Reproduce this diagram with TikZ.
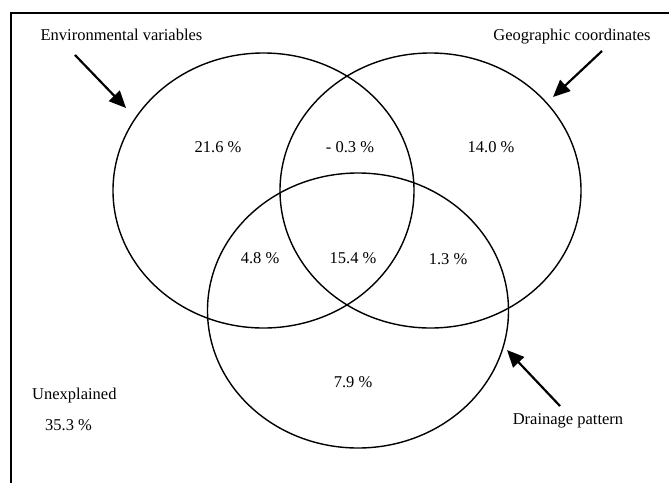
\documentclass[tikz,border=0pt]{standalone}
\usepackage{fontspec}
\setmainfont{Liberation Serif}
\usetikzlibrary{shapes.geometric,arrows.meta}
\begin{document}
\begin{tikzpicture}[x=1pt,y=-1pt,
  setcircle/.style={draw, ellipse, line width=1.4pt, minimum width=301pt, minimum height=275pt, inner sep=0pt, outer sep=0pt},
  lbl/.style={anchor=base, inner sep=0pt, font=\fontsize{16.5}{19}\selectfont},
  pointer/.style={line width=2.2pt, -{Triangle[length=17pt,width=15pt]}},
  framepen/.style={line width=1.3pt}]
\useasboundingbox (0,0) rectangle (669,483);
% frame
\coordinate (ftr) at (669,13);
\coordinate (ftl) at (11,13);
\coordinate (fbl) at (11,483);
\draw[framepen] (ftr) -- (ftl) -- (fbl);
% circles
\node[setcircle] (env) at (263.5,190.5) {};
\node[setcircle] (geo) at (430.5,190.5) {};
\node[setcircle] (drain) at (358,310.5) {};
% titles
\node[lbl] (envlbl) at (121.5,40.5) {Environmental variables};
\node[lbl] (geolbl) at (572,40.5) {Geographic coordinates};
\node[lbl] (drainlbl) at (568,424.5) {Drainage pattern};
\node[lbl, anchor=base west] (unexp) at (32,399.5) {Unexplained};
\node[lbl, anchor=base west] (unexpv) at (45,430.5) {35.3 \%};
% values
\node[lbl] (v1) at (218,152.5) {21.6 \%};
\node[lbl] (v2) at (350,152.5) {- 0.3 \%};
\node[lbl] (v3) at (491,152.5) {14.0 \%};
\node[lbl] (v4) at (260,263.5) {4.8 \%};
\node[lbl] (v5) at (353,263.5) {15.4 \%};
\node[lbl] (v6) at (448,264.5) {1.3 \%};
\node[lbl] (v7) at (353,387.5) {7.9 \%};
% arrows
\coordinate (envtail) at (75,55);
\coordinate (envtip) at (126,108);
\coordinate (geotail) at (602,51);
\coordinate (geotip) at (553,97);
\coordinate (draintail) at (560,406);
\coordinate (draintip) at (507,350);
\draw[pointer] (envtail) -- (envtip);
\draw[pointer] (geotail) -- (geotip);
\draw[pointer] (draintail) -- (draintip);
\end{tikzpicture}
\end{document}
